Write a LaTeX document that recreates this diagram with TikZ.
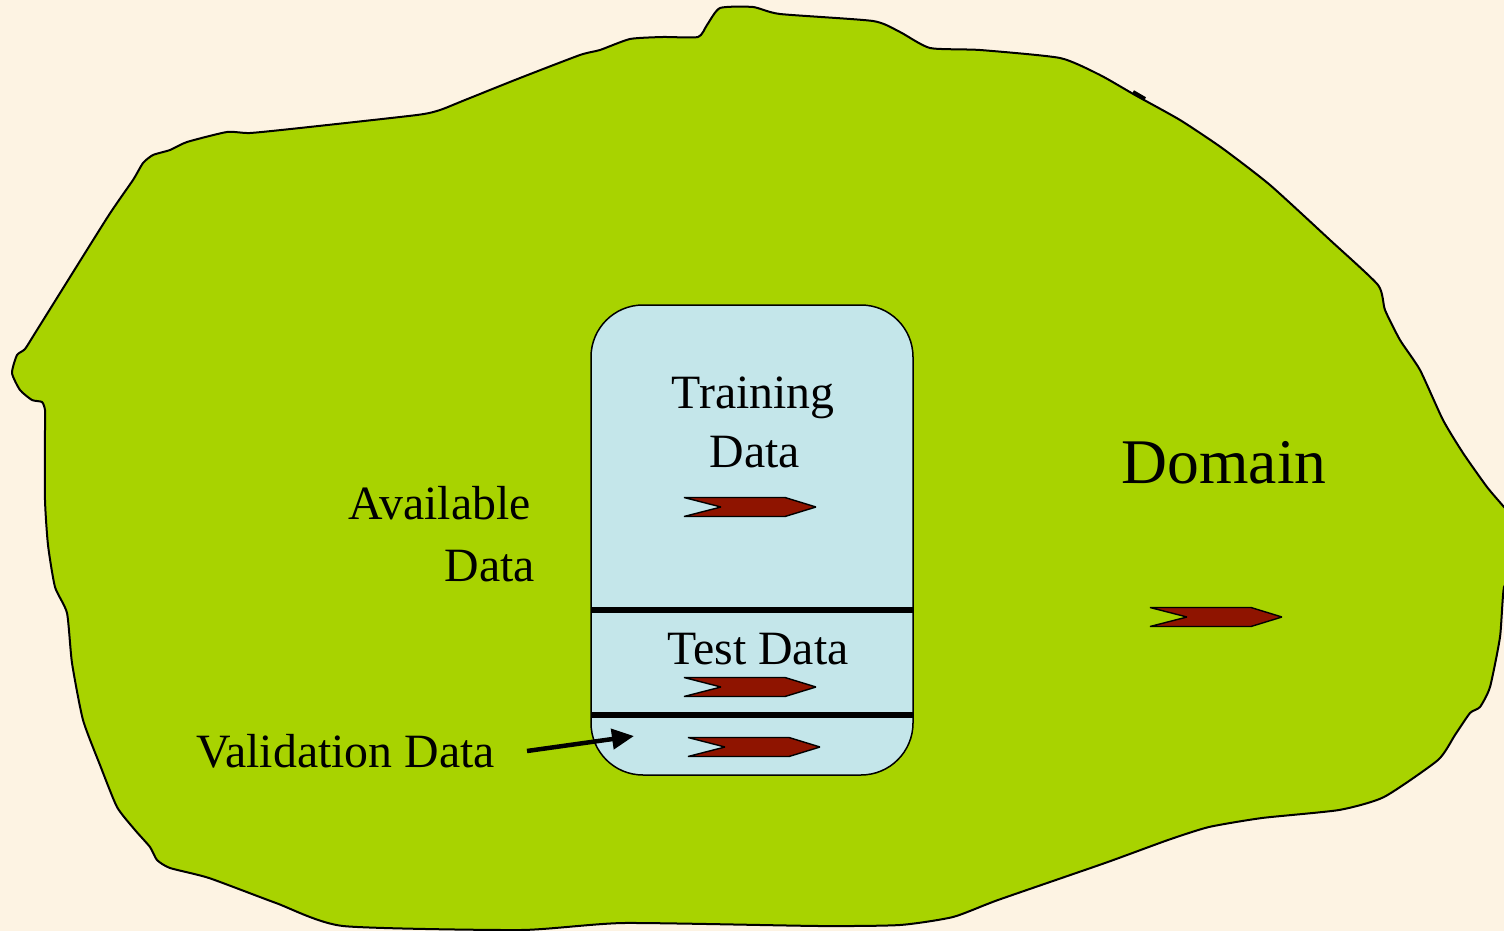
\documentclass[tikz,border=0pt]{standalone}
\usepackage{fontspec}
\setmainfont{Liberation Serif}
\usetikzlibrary{arrows.meta}
\definecolor{bgcream}{RGB}{253,243,227}
\definecolor{domgreen}{RGB}{168,211,0}
\definecolor{boxblue}{RGB}{196,230,234}
\definecolor{chevred}{RGB}{143,20,0}
\tikzset{
  lbl/.style={font=\fontsize{47.8}{59}\selectfont, inner sep=0pt, anchor=base},
  chev/.pic={\draw[fill=chevred, line width=1.4pt, line join=bevel]
     (-66,-9.5) -- (35,-9.5) -- (66,0) -- (35,9.5) -- (-66,9.5) -- (-29,0) -- cycle;},
  divider/.style={line width=6pt},
}
\begin{document}
\begin{tikzpicture}[x=1pt,y=-1pt]
\useasboundingbox (0,0) rectangle (1504,931);
\clip (0,0) rectangle (1504,931);
\fill[bgcream] (0,0) rectangle (1504,931);
% domain blob
\draw[fill=domgreen, line width=2pt, line join=round]
 plot[smooth cycle, tension=0.35] coordinates {
 (37,330) (25,349) (17,355) (12,373) (20,390) (32,400) (42,402) (45,410) (45,430)
 (45,500) (48,545) (55,587) (67,613) (72,663) (83,720) (100,765) (117,807)
 (135,830) (150,847) (157,860) (170,868) (209,878) (276,903) (343,926)
 (521,930) (624,923) (819,926) (900,925) (953,917) (998,900) (1105,863)
 (1168,840) (1209,827) (1262,818) (1339,810) (1384,797) (1438,760) (1455,735)
 (1470,713) (1480,707) (1490,687) (1500,637) (1504,587) (1515,570) (1515,520)
 (1504,507) (1487,487) (1463,453) (1443,420) (1420,370) (1400,340) (1385,310)
 (1378,285) (1330,240) (1270,185) (1222,148) (1180,120) (1135,95) (1100,75)
 (1060,58) (980,50) (930,48) (900,32) (873,21) (780,14) (753,7) (720,8)
 (707,25) (698,37) (663,37) (630,39) (600,50) (580,55) (520,78) (465,100)
 (440,110) (417,115) (300,128) (250,133) (227,132) (187,142) (170,150)
 (153,155) (143,163) (133,180) (107,218) };
\draw[line width=4pt] (1133,92) -- (1145,99);
% available data box
\node[draw, line width=1.5pt, fill=boxblue, rounded corners=52pt,
      minimum width=322pt, minimum height=470pt, inner sep=0pt] (box) at (752,540) {};
\coordinate (d1l) at (591,610); \coordinate (d1r) at (913,610);
\coordinate (d2l) at (591,715); \coordinate (d2r) at (913,715);
\draw[divider] (d1l) -- (d1r);
\draw[divider] (d2l) -- (d2r);
% labels
\node[lbl] (train1) at (753,408) {Training};
\node[lbl] (train2) at (755,467) {Data};
\node[lbl, anchor=base east] (avail1) at (531,519) {Available};
\node[lbl, anchor=base east] (avail2) at (535,581) {Data};
\node[lbl] (test) at (758,664) {Test Data};
\node[lbl, anchor=base west] (valid) at (196,767) {Validation Data};
\node[lbl, font=\fontsize{63.6}{75}\selectfont] (domain) at (1224,483) {Domain};
% chevrons
\pic at (750,507) {chev};
\pic at (750,687) {chev};
\pic at (754,747) {chev};
\pic at (1216,617) {chev};
% validation arrow
\coordinate (valtail) at (527,751);
\coordinate (valtip) at (634,736);
\draw[line width=4.5pt, -{Triangle[length=22pt, width=20pt]}] (valtail) -- (valtip);
\end{tikzpicture}
\end{document}
